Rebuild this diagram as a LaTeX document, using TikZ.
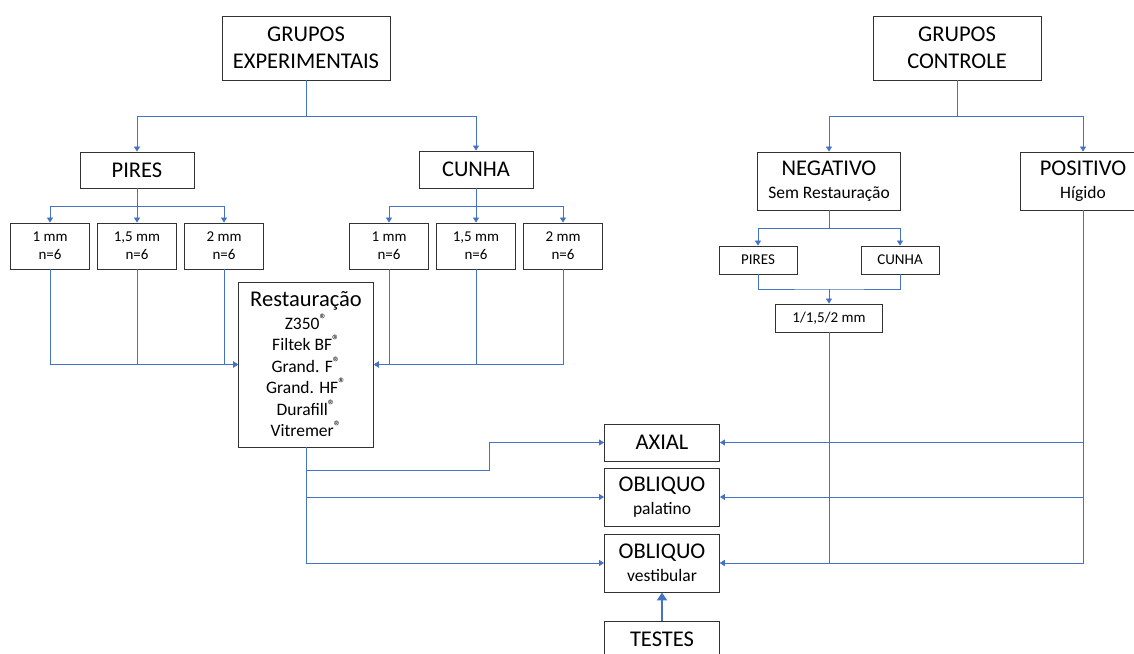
\documentclass[tikz,border=0pt]{standalone}
\usepackage{fontspec}
\setmainfont{Carlito}
\usetikzlibrary{arrows.meta}
\definecolor{lnblue}{RGB}{68,114,196}
\definecolor{bxgray}{RGB}{50,50,50}
\newcommand{\fbig}{\fontsize{22.5}{27}\selectfont}
\newcommand{\fmid}{\fontsize{17.5}{21.5}\selectfont}
\newcommand{\fsml}{\fontsize{15}{18}\selectfont}
\newcommand{\reg}{\raisebox{0.6ex}{\fontsize{15}{15}\selectfont ®}}
\tikzset{
  box/.style={draw=bxgray, line width=0.9pt, fill=white, align=center, inner sep=0pt, rectangle},
  conn/.style={draw=lnblue, line width=0.8pt},
  arr/.style={conn, -{Triangle[width=6pt,length=5pt]}},
  bigarr/.style={draw=lnblue, line width=2.4pt, -{Triangle[width=10pt,length=8pt]}},
}
\begin{document}
\begin{tikzpicture}[x=1pt,y=-1pt]
\useasboundingbox (0,0) rectangle (1134,653);
\clip (0,0) rectangle (1134,653);
\fill[white] (0,0) rectangle (1134,653);
% top level
\node[box, minimum width=168pt, minimum height=64pt, font=\fbig] (ge) at (306,48) {GRUPOS\\EXPERIMENTAIS};
\node[box, minimum width=168pt, minimum height=64pt, font=\fbig] (gc) at (957,48) {GRUPOS\\CONTROLE};
% experimental
\node[box, minimum width=114pt, minimum height=36pt, font=\fbig] (pires) at (137,170) {PIRES};
\node[box, minimum width=114pt, minimum height=37pt, font=\fbig] (cunha) at (476,169.5) {CUNHA};
\foreach \n/\x/\t in {p1/50/1 mm, p2/137/{1,5 mm}, p3/224/2 mm, c1/389/1 mm, c2/476/{1,5 mm}, c3/563/2 mm}{
  \node[box, minimum width=79pt, minimum height=46pt, font=\fsml] (\n) at (\x,246) {\t\\n=6};
}
\node[box, minimum width=135pt, minimum height=165pt, font=\fmid] (rest) at (306,364.5)
  {{\fbig Restauração}\\[1pt]Z350\reg\\Filtek BF\reg\\Grand. F\reg\\Grand. HF\reg\\Durafill\reg\\Vitremer\reg};
% control
\node[box, minimum width=143pt, minimum height=58pt, font=\fmid] (neg) at (829,181) {{\fbig NEGATIVO}\\[1.5pt]Sem Restauração};
\node[box, minimum width=126pt, minimum height=58pt, font=\fmid] (pos) at (1083,181) {{\fbig POSITIVO}\\[1.5pt]Hígido};
\node[box, minimum width=78pt, minimum height=28pt, font=\fsml] (np) at (758,260) {PIRES};
\node[box, minimum width=78pt, minimum height=28pt, font=\fsml] (nc) at (900,260) {CUNHA};
\node[box, minimum width=107pt, minimum height=28pt, font=\fsml] (mm) at (829,318) {1/1,5/2 mm};
% tests
\node[box, minimum width=115pt, minimum height=37pt, font=\fbig] (axial) at (662,442.5) {AXIAL};
\node[box, minimum width=115pt, minimum height=58pt, font=\fmid] (obp) at (662,497) {{\fbig OBLIQUO}\\[1.5pt]palatino};
\node[box, minimum width=115pt, minimum height=58pt, font=\fmid] (obv) at (662,563) {{\fbig OBLIQUO}\\[1.5pt]vestibular};
\node[box, minimum width=115pt, minimum height=37pt, font=\fbig] (testes) at (662,639.5) {TESTES};
% connectors: experimental
\coordinate (geb) at (306,116);
\draw[conn] (ge.south) -- (geb);
\draw[arr] (geb) -| (pires.north);
\draw[arr] (geb) -| (cunha.north);
\coordinate (pb) at (137,206);
\draw[arr] (pires.south) -- (p2.north);
\draw[arr] (pb) -| (p1.north);
\draw[arr] (pb) -| (p3.north);
\coordinate (cb) at (476,206);
\draw[arr] (cunha.south) -- (c2.north);
\draw[arr] (cb) -| (c1.north);
\draw[arr] (cb) -| (c3.north);
\foreach \n in {p1,p2,p3}{\draw[arr] (\n.south) |- (rest.west);}
\foreach \n in {c1,c2,c3}{\draw[arr] (\n.south) |- (rest.east);}
\coordinate (rs1) at (489,470);
\draw[arr] (rest.south) |- (rs1) |- (axial.west);
\draw[arr] (rest.south) |- (obp.west);
\draw[arr] (rest.south) |- (obv.west);
% connectors: control
\coordinate (gcb) at (957,116);
\draw[conn] (gc.south) -- (gcb);
\draw[arr] (gcb) -| (neg.north);
\draw[arr] (gcb) -| (pos.north);
\coordinate (nb) at (829,228);
\draw[conn] (neg.south) -- (nb);
\draw[arr] (nb) -| (np.north);
\draw[arr] (nb) -| (nc.north);
\coordinate (mb) at (829,289);
\draw[conn] (np.south) |- (mb) -| (nc.south);
\draw[arr] (mb) -- (mm.north);
\draw[arr] (mm.south) |- (obv.east);
\draw[arr] (pos.south) |- (axial.east);
\draw[arr] (pos.south) |- (obp.east);
\draw[arr] (pos.south) |- (obv.east);
% tests arrow
\draw[bigarr] (testes.north) -- (obv.south);
\end{tikzpicture}
\end{document}
